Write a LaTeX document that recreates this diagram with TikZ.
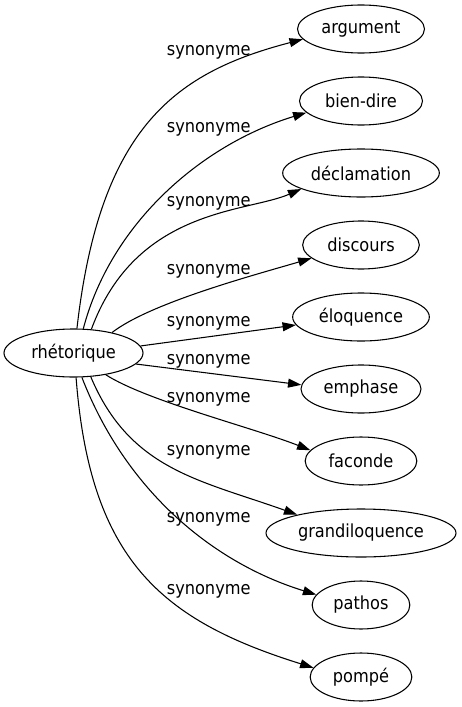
\documentclass[tikz,border=0pt]{standalone}
\usepackage{fontspec}
\setmainfont{DejaVu Sans Condensed}
\usetikzlibrary{shapes.geometric,arrows.meta}
\tikzset{
  ell/.style={ellipse, draw, line width=0.8pt, inner sep=0pt, minimum height=36pt, font=\fontsize{13.5}{16}\selectfont},
  lab/.style={anchor=base, inner sep=0pt, font=\fontsize{13.5}{16}\selectfont},
  edge/.style={draw, line width=0.8pt, -{Triangle[length=10pt,width=6.7pt]}}
}
\begin{document}
\begin{tikzpicture}[x=0.75pt,y=-0.75pt]
\useasboundingbox (0,0) rectangle (461,707);
\node[ell, minimum width=104.25pt] (rh) at (73.5,353) {rhétorique};
\node[ell, minimum width=95.25pt] (arg) at (361,29) {argument};
\node[ell, minimum width=92.25pt] (bd) at (361,101) {bien-dire};
\node[ell, minimum width=117.5pt] (dec) at (361,173) {déclamation};
\node[ell, minimum width=87.5pt] (dis) at (361,245) {discours};
\node[ell, minimum width=102.5pt] (elo) at (361,317) {éloquence};
\node[ell, minimum width=90pt] (emp) at (361,389) {emphase};
\node[ell, minimum width=83.75pt] (fac) at (361,461) {faconde};
\node[ell, minimum width=142.5pt] (gra) at (361,533) {grandiloquence};
\node[ell, minimum width=73.25pt] (pat) at (361,605) {pathos};
\node[ell, minimum width=76.25pt] (pom) at (361,677) {pompé};

\node[lab] (l1) at (208.7,55.3) {synonyme};
\node[lab] (l2) at (208.7,132.3) {synonyme};
\node[lab] (l3) at (208.7,206.3) {synonyme};
\node[lab] (l4) at (208.7,274) {synonyme};
\node[lab] (l5) at (208.7,326.7) {synonyme};
\node[lab] (l6) at (208.7,364.7) {synonyme};
\node[lab] (l7) at (208.7,402) {synonyme};
\node[lab] (l8) at (208.7,455.3) {synonyme};
\node[lab] (l9) at (208.7,522) {synonyme};
\node[lab] (l10) at (208.7,594.7) {synonyme};

\path[edge] (rh.82) .. controls (100,125) and (177.3,72) .. (arg.190);
\path[edge] (rh.68) .. controls (110.8,223.6) and (201.3,144.6) .. (bd.192.6);
\path[edge] (rh.53.5) .. controls (136.2,207.8) and (246.5,212.7) .. (dec.195);
\path[edge] (rh.28.6) .. controls (150.7,302.7) and (254.1,275.1) .. (dis.195);
\path[edge] (rh.6.5) -- (elo.187);
\path[edge] (rh.-10.3) -- (emp.176);
\path[edge] (rh.-34.2) .. controls (147,401) and (253.5,427.8) .. (fac.168);
\path[edge] (rh.-54.7) .. controls (130,470) and (200,480) .. (gra.164);
\path[edge] (rh.-71) .. controls (124.9,488.6) and (210.5,562) .. (pat.167.7);
\path[edge] (rh.-84) .. controls (90,560) and (161.3,620.3) .. (pom.169);
\end{tikzpicture}
\end{document}
